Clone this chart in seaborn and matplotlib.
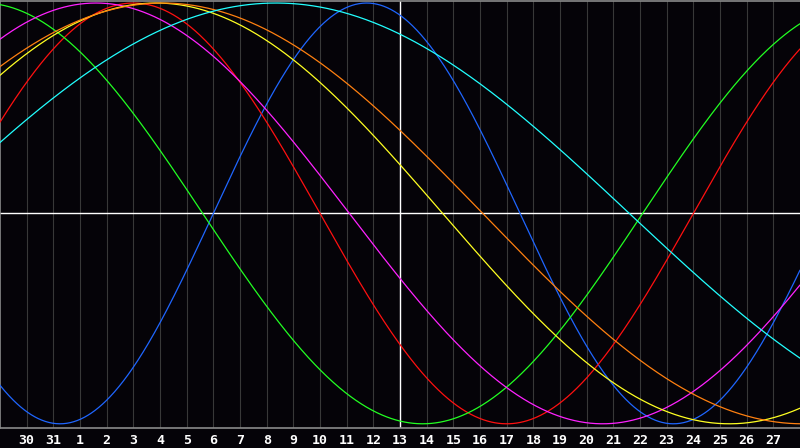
import numpy as np
import pandas as pd
import seaborn as sns
import matplotlib
matplotlib.use("Agg")
import matplotlib.pyplot as plt

# day labels under the vertical grid lines (first column is day 29 of previous month)
day_labels = ['30', '31'] + [str(d) for d in range(1, 28)]
today_index = 15            # the white vertical line (day 13)

# biorhythm cycles
cycle_names = ['Physical', 'Emotional', 'Intellectual', 'Intuitive',
               'Aesthetic', 'Awareness', 'Spiritual']
cycle_days = [23, 28, 33, 38, 43, 48, 53]
cycle_start = [15.0, 2.0, 8.9, 5.9, 4.9, 5.9, 2.9]   # day of cycle at left edge
cycle_colors = ['#1f66ff', '#ff1010', '#22ff22', '#ff22ff',
                '#ffff22', '#ff8010', '#22ffff']

bg = '#050308'
sns.set_theme(style="dark", rc={"axes.facecolor": bg, "figure.facecolor": bg})

days = np.linspace(0, 30, 901)
rows = []
for name, period, start in zip(cycle_names, cycle_days, cycle_start):
    vals = np.sin(2 * np.pi * (days + start) / period)
    rows.append(pd.DataFrame({'day': days, 'value': vals, 'cycle': name}))
df = pd.concat(rows, ignore_index=True)

fig = plt.figure(figsize=(8, 4.48), dpi=100)
ax = fig.add_axes([0, 20 / 448, 1, 427.5 / 448])

for k in range(1, len(day_labels) + 1):
    ax.axvline(k, color='#383838', lw=0.8, zorder=1)
ax.axhline(0, color='white', lw=1.0, zorder=2)
ax.axvline(today_index, color='white', lw=1.0, zorder=2)

sns.lineplot(data=df, x='day', y='value', hue='cycle', palette=cycle_colors,
             hue_order=cycle_names, lw=0.9, legend=False, ax=ax, zorder=3)

ax.set_xlim(0, 30)
ax.set_ylim(-1.02, 1.012)
ax.set_xticks(range(1, len(day_labels) + 1))
ax.set_xticklabels(day_labels, color='white', fontsize=9.5, fontweight='bold',
                   family='DejaVu Sans Mono')
ax.set_yticks([])
ax.set_xlabel('')
ax.set_ylabel('')
ax.tick_params(axis='x', length=0, pad=4)
ax.grid(False)
for side in ['left', 'top', 'bottom']:
    ax.spines[side].set_visible(True)
    ax.spines[side].set_color('#8a8a8a')
    ax.spines[side].set_linewidth(1.2)
ax.spines['right'].set_visible(False)

fig.savefig('out.png', dpi=100, facecolor=bg)
